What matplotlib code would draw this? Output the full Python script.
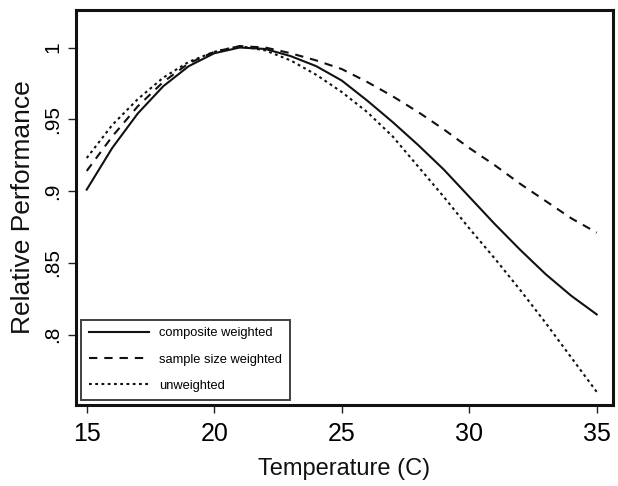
import matplotlib.pyplot as plt

plt.rcParams['font.family'] = ['Liberation Sans', 'DejaVu Sans']
plt.rcParams['lines.scale_dashes'] = False

# temperature (C), one reading per degree
temp = list(range(15, 36))

composite = [0.901, 0.930, 0.954, 0.973, 0.987, 0.996, 1.000, 0.999, 0.994, 0.987,
             0.977, 0.963, 0.948, 0.932, 0.915, 0.896, 0.877, 0.859, 0.842, 0.827, 0.814]
sample_size = [0.914, 0.938, 0.959, 0.976, 0.989, 0.997, 1.001, 1.000, 0.996, 0.991,
               0.985, 0.976, 0.966, 0.955, 0.943, 0.930, 0.918, 0.905, 0.893, 0.881, 0.871]
unweighted = [0.923, 0.946, 0.964, 0.979, 0.990, 0.997, 1.001, 0.998, 0.991, 0.981,
              0.969, 0.955, 0.938, 0.917, 0.896, 0.874, 0.853, 0.831, 0.808, 0.784, 0.760]

xticks = [15, 20, 25, 30, 35]
yticks = [0.8, 0.85, 0.9, 0.95, 1.0]
ytick_labels = ['.8', '.85', '.9', '.95', '1']

fig = plt.figure(figsize=(6.18, 4.86), dpi=100)
ax = fig.add_axes([0.123, 0.167, 0.869, 0.812])

ax.plot(temp, composite, color='#111111', lw=1.5, ls='-', label='composite weighted')
ax.plot(temp, sample_size, color='#111111', lw=1.5, ls=(0, (6, 5)), label='sample size weighted')
ax.plot(temp, unweighted, color='#111111', lw=1.5, ls=(0, (2, 2.5)), label='unweighted')

ax.set_xlim(14.58, 35.64)
ax.set_ylim(0.751, 1.026)
ax.set_xticks(xticks)
ax.set_xticklabels([str(t) for t in xticks], fontsize=18)
ax.set_yticks(yticks)
ax.set_yticklabels(ytick_labels, fontsize=15, rotation=90, va='center')
ax.tick_params(direction='out', length=6, width=1, color='#222222')
ax.tick_params(axis='x', pad=6)
ax.tick_params(axis='y', pad=4)

for s in ax.spines.values():
    s.set_linewidth(2.2)
    s.set_color('#111111')

ax.set_xlabel('Temperature (C)', fontsize=17, labelpad=9, color='#111111')
ax.set_ylabel('Relative Performance', fontsize=19, labelpad=6, color='#111111')

leg = ax.legend(loc='lower left', fontsize=9.3, handlelength=4.65, labelspacing=1.1,
                frameon=True, fancybox=False, edgecolor='#111111', borderaxespad=0.4,
                borderpad=0.6, handletextpad=0.8)
leg.get_frame().set_linewidth(1.4)

fig.savefig('out.png', dpi=100)
